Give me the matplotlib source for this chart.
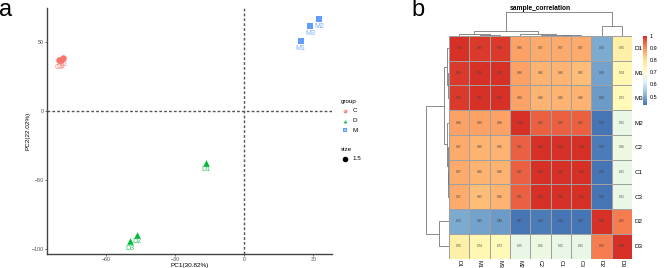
import numpy as np
import matplotlib.pyplot as plt
from matplotlib.colors import LinearSegmentedColormap

plt.rcParams["font.family"] = ["Liberation Sans", "DejaVu Sans"]

# ---- panel a: PCA ----
samples = ["C1", "C2", "C3", "D1", "D2", "D3", "M1", "M2", "M3"]
groups = ["C", "C", "C", "D", "D", "D", "M", "M", "M"]
pc1 = [-79.8, -78.8, -80.4, -16.7, -46.8, -49.8, 24.5, 32.5, 28.6]
pc2 = [37.0, 38.2, 36.4, -37.7, -89.9, -94.7, 50.2, 66.1, 61.1]
pc1_label = "PC1(30.82%)"
pc2_label = "PC2(22.02%)"

group_names = ["C", "D", "M"]
group_colors = {"C": "#F8766D", "D": "#00BA38", "M": "#619CFF"}
group_markers = {"C": "o", "D": "^", "M": "s"}

# ---- panel b: sample correlation ----
hm_order = ["D1", "M1", "M3", "M2", "C2", "C1", "C3", "D2", "D3"]
corr = np.array([
    [1.00, 0.99, 0.99, 0.88, 0.87, 0.87, 0.87, 0.50, 0.76],
    [0.99, 1.00, 1.00, 0.88, 0.86, 0.86, 0.85, 0.49, 0.74],
    [0.99, 1.00, 1.00, 0.88, 0.86, 0.86, 0.86, 0.48, 0.73],
    [0.88, 0.88, 0.88, 1.00, 0.95, 0.95, 0.95, 0.43, 0.65],
    [0.87, 0.86, 0.86, 0.95, 1.00, 1.00, 1.00, 0.44, 0.66],
    [0.87, 0.86, 0.86, 0.95, 1.00, 1.00, 1.00, 0.43, 0.65],
    [0.87, 0.85, 0.86, 0.95, 1.00, 1.00, 1.00, 0.43, 0.65],
    [0.50, 0.49, 0.48, 0.43, 0.44, 0.43, 0.43, 1.00, 0.92],
    [0.76, 0.74, 0.73, 0.65, 0.66, 0.65, 0.65, 0.92, 1.00],
])
# dendrogram merges (indices into hm_order, new clusters numbered from 9) and heights
merges = [(1, 2), (0, 9), (5, 6), (4, 11), (3, 12), (10, 13), (7, 8), (14, 15)]
merge_heights = [0.02, 0.06, 0.02, 0.04, 0.07, 0.19, 0.42, 1.0]

W, H = 669, 268
fig = plt.figure(figsize=(W / 100, H / 100), dpi=100)


def px(x0, y0, x1, y1):
    # pixel box -> figure fraction rect
    return [x0 / W, 1 - y1 / H, (x1 - x0) / W, (y1 - y0) / H]


ax = fig.add_axes(px(46.7, 8.3, 332, 254))
ax.axhline(0, color="#555555", ls=(0, (2, 1.5)), lw=1.0, zorder=1)
ax.axvline(0, color="#555555", ls=(0, (2, 1.5)), lw=1.0, zorder=1)
for g in group_names:
    idx = [i for i, gg in enumerate(groups) if gg == g]
    ax.scatter([pc1[i] for i in idx], [pc2[i] for i in idx], s=22,
               marker=group_markers[g], color=group_colors[g], lw=0, zorder=3)
    for i in idx:
        ax.annotate(samples[i], (pc1[i], pc2[i]), xytext=(0, -5), textcoords="offset points",
                    ha="center", va="center", fontsize=5, color=group_colors[g], alpha=0.85, zorder=4)
ax.set_xlim(-85.9, 38.1)
ax.set_ylim(-103.8, 74.2)
ax.set_xticks([-60, -30, 0, 30])
ax.set_yticks([-100, -50, 0, 50])
ax.tick_params(labelsize=3.8, labelcolor="#4d4d4d", length=1.5, width=0.5, pad=0.4, color="#333333")
for s in ["top", "right"]:
    ax.spines[s].set_visible(False)
for s in ["left", "bottom"]:
    ax.spines[s].set_color("#444444")
    ax.spines[s].set_linewidth(1.0)
ax.set_xlabel(pc1_label, fontsize=4.6, va="center")
ax.xaxis.set_label_coords(0.5, -11 / 245.7)
ax.set_ylabel(pc2_label, fontsize=4.6, labelpad=1)

# ---- heatmap ----
cmap = LinearSegmentedColormap.from_list(
    "rdylbu", ["#4575B4", "#91BFDB", "#E0F3F8", "#FFFFBF", "#FEE090", "#FC8D59", "#D73027"])
hx0, hy0, hx1, hy1 = 449, 36, 632, 258.5
hax = fig.add_axes(px(hx0, hy0, hx1, hy1))
mesh = hax.pcolormesh(corr, cmap=cmap, vmin=corr.min(), vmax=corr.max(),
                      edgecolors="#a0a0a0", linewidth=0.4)
hax.set_xlim(0, 9)
hax.set_ylim(9, 0)
for r in range(9):
    for c in range(9):
        hax.text(c + 0.5, r + 0.5, f"{corr[r, c]:.2f}", ha="center", va="center",
                 fontsize=2.2, color="#444444")
hax.yaxis.tick_right()
hax.set_yticks(np.arange(9) + 0.5)
hax.set_yticklabels(hm_order)
hax.set_xticks(np.arange(9) + 0.5)
hax.set_xticklabels(hm_order, rotation=270)
hax.tick_params(axis="y", length=0, labelsize=4.5, pad=2)
hax.tick_params(axis="x", length=0, labelsize=4, pad=1)
for s in hax.spines.values():
    s.set_visible(False)


def dendro_segments(merges, heights, n):
    pos = {i: i + 0.5 for i in range(n)}
    hgt = {i: 0.0 for i in range(n)}
    segs = []
    for k, ((a, b), h) in enumerate(zip(merges, heights)):
        segs.append(([pos[a], pos[a], pos[b], pos[b]], [hgt[a], h, h, hgt[b]]))
        pos[n + k] = (pos[a] + pos[b]) / 2
        hgt[n + k] = h
    return segs


segs = dendro_segments(merges, merge_heights, 9)
tax = fig.add_axes(px(hx0, 11.7, hx1, hy0 - 0.5))
lax = fig.add_axes(px(425.5, hy0, hx0 - 0.5, hy1))
for xs, ys in segs:
    tax.plot(xs, ys, color="#777777", lw=0.6)
    lax.plot(ys, xs, color="#777777", lw=0.6)
tax.set_xlim(0, 9)
tax.set_ylim(0, 1.0)
lax.set_ylim(9, 0)
lax.set_xlim(1.0, 0)
tax.axis("off")
lax.axis("off")

cax = fig.add_axes(px(643, 36, 647, 105))
cb = fig.colorbar(mesh, cax=cax)
cb.set_ticks([0.5, 0.6, 0.7, 0.8, 0.9, 1.0])
cb.set_ticklabels(["0.5", "0.6", "0.7", "0.8", "0.9", "1"])
cb.outline.set_visible(False)
cax.tick_params(length=0, labelsize=4, pad=2)

# ---- overlay: panel letters, title, legend ----
ov = fig.add_axes([0, 0, 1, 1], facecolor="none")
ov.set_xlim(0, W)
ov.set_ylim(H, 0)
ov.axis("off")
ov.text(-1, 10, "a", fontsize=17, ha="left", va="center")
ov.text(411, 10, "b", fontsize=17, ha="left", va="center")
ov.text(540, 8.3, "sample_correlation", fontsize=4.8, fontweight="bold", ha="center", va="center")

ov.text(340.5, 101.7, "group", fontsize=4.5, ha="left", va="center")
for k, g in enumerate(group_names):
    yy = 111 + k * 9.5
    ov.plot(345, yy, marker=group_markers[g], ms=2.6, color=group_colors[g], mew=0)
    ov.text(345, yy, "a", fontsize=2.5, color="white", ha="center", va="center")
    ov.text(352.5, yy, g, fontsize=4.5, ha="left", va="center")
ov.text(340.5, 149.3, "size", fontsize=4.5, ha="left", va="center")
ov.plot(345, 158.7, marker="o", ms=4, color="black", mew=0)
ov.text(352.5, 158.7, "1.5", fontsize=4.5, ha="left", va="center")

fig.savefig("out.png", dpi=100)
